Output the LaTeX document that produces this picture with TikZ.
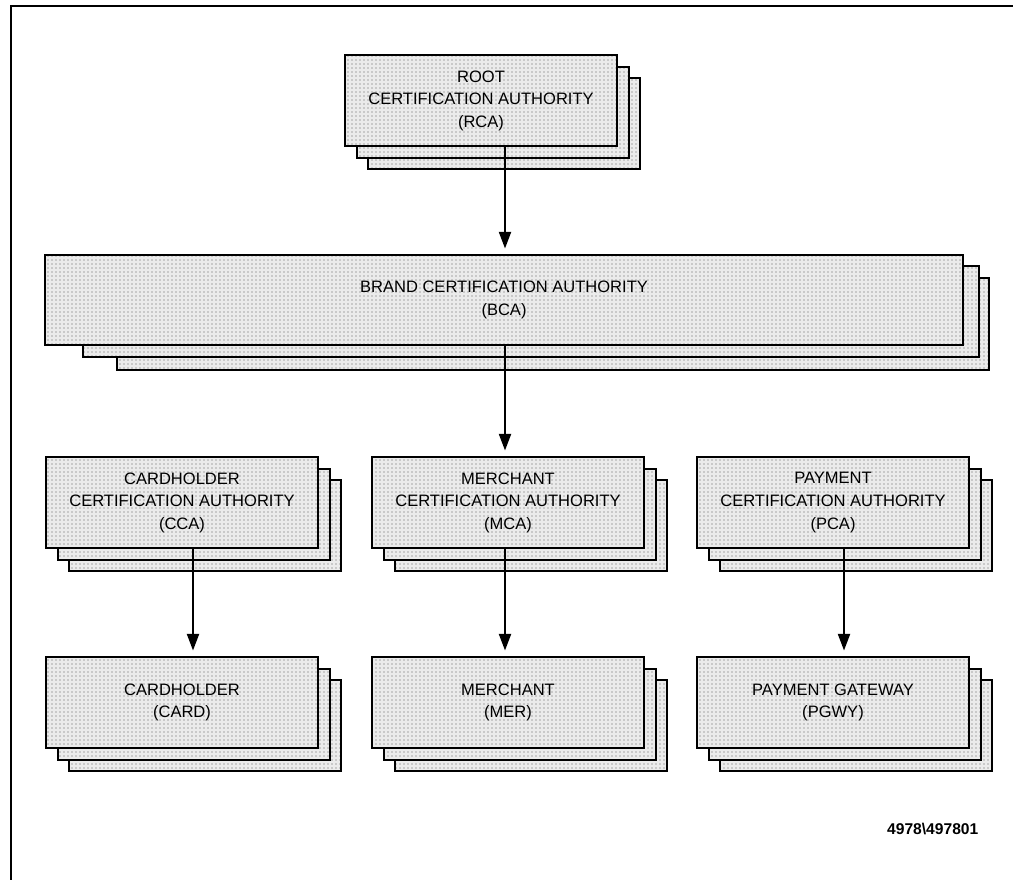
\documentclass[tikz,border=0pt]{standalone}
\usepackage{fontspec}
\setmainfont{Liberation Sans}
\usetikzlibrary{arrows.meta,patterns}

\tikzset{
  stip/.style={preaction={fill=black!8},pattern=dots,pattern color=black!65},
  layer/.style={stip,draw,line width=1.7pt},
  cabox/.style={stip,draw,line width=1.7pt,inner sep=0pt,align=center,
    minimum width=204pt,minimum height=68.25pt,
    font=\fontsize{12.4}{16.9}\selectfont},
  arr/.style={line width=1.6pt,-{Triangle[length=12.5pt,width=9pt]},shorten >=4pt}
}

\begin{document}
\begin{tikzpicture}[x=0.75pt,y=-0.75pt]
\useasboundingbox (0,0) rectangle (1013,880);
\draw[line width=1.2pt](11,880)--(11,6)--(1013,6);
% brand stack
\path[layer](117,278) rectangle (989,370);
\path[layer](83,266) rectangle (979,357);
\node[cabox,minimum width=688.5pt,minimum height=67.5pt](bca) at (504,300)
  {BRAND CERTIFICATION AUTHORITY\\(BCA)};
% the other stacks
\foreach \nm/\x/\y/\txt in {
  rca/345/55/{ROOT\\CERTIFICATION AUTHORITY\\(RCA)},
  cca/46/457/{CARDHOLDER\\CERTIFICATION AUTHORITY\\(CCA)},
  mca/372/457/{MERCHANT\\CERTIFICATION AUTHORITY\\(MCA)},
  pca/697/457/{PAYMENT\\CERTIFICATION AUTHORITY\\(PCA)},
  card/46/657/{CARDHOLDER\\(CARD)},
  mer/372/657/{MERCHANT\\(MER)},
  pgwy/697/657/{PAYMENT GATEWAY\\(PGWY)}}{
  \path[layer](\x+23,\y+23) rectangle +(272,91);
  \path[layer](\x+12,\y+12) rectangle +(272,91);
  \node[cabox](\nm) at (\x+136,\y+45.5){\txt};
}
\draw[arr]([xshift=18pt]rca.south)--([xshift=18pt]rca.south |- bca.north);
\draw[arr]([xshift=-2.25pt]mca.north |- bca.south)--([xshift=-2.25pt]mca.north);
\draw[arr]([xshift=8.25pt]cca.south)--([xshift=8.25pt]cca.south |- card.north);
\draw[arr]([xshift=-2.25pt]mca.south)--([xshift=-2.25pt]mca.south |- mer.north);
\draw[arr]([xshift=8.25pt]pca.south)--([xshift=8.25pt]pca.south |- pgwy.north);
\node[anchor=east,font=\fontsize{11.7}{14}\selectfont\bfseries](fig) at (983,829){4978\textbackslash 497801};
\end{tikzpicture}
\end{document}
